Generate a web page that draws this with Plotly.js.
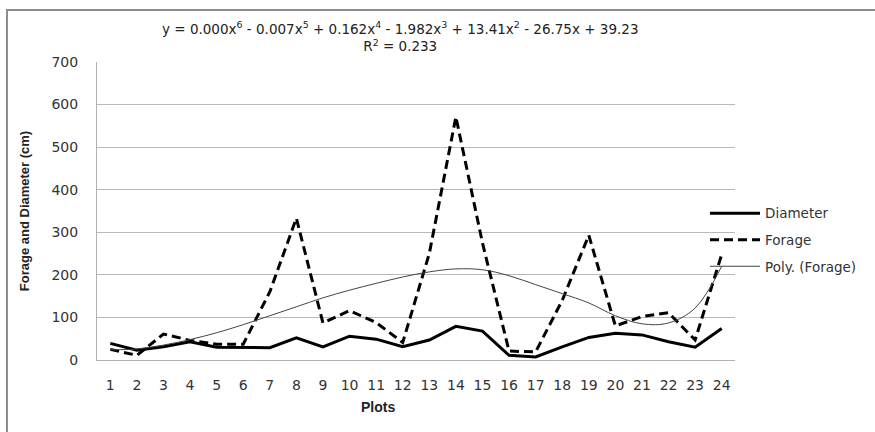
<!DOCTYPE html>
<html>
<head>
<meta charset="utf-8">
<script src="https://cdn.plot.ly/plotly-3.0.1.min.js"></script>
<style>html,body{margin:0;padding:0;background:#fff;}</style>
</head>
<body>
<div id="chart" style="width:875px;height:432px;"></div>
<script>
// ---- data ----
const plots = ["1","2","3","4","5","6","7","8","9","10","11","12","13","14","15","16","17","18","19","20","21","22","23","24"];
const diameter = [39, 23, 31, 43, 30, 30, 29, 52, 31, 56, 49, 31, 47, 79, 68, 11, 7, 31, 53, 63, 59, 43, 30, 74];
const forage = [25, 11, 61, 46, 37, 37, 160, 333, 87, 116, 88, 41, 250, 571, 275, 21, 19, 140, 293, 80, 102, 111, 47, 248];
const polyForage = [24, 26, 35, 48, 64, 83, 104, 125, 146, 164, 180, 195, 207, 214, 212, 198, 177, 156, 134, 104, 85, 87, 122, 220];
const yTicks = [0, 100, 200, 300, 400, 500, 600, 700];
const equationText = "y = 0.000x<sup>6</sup> - 0.007x<sup>5</sup> + 0.162x<sup>4</sup> - 1.982x<sup>3</sup> + 13.41x<sup>2</sup> - 26.75x + 39.23<br>R<sup>2</sup> = 0.233";

const baseFont = "DejaVu Sans, Verdana, sans-serif";
const boldFont = "Liberation Sans, Arial, sans-serif";

const traces = [
  {x: plots, y: diameter, name: "Diameter", type: "scatter", mode: "lines",
   line: {color: "#000", width: 3}, legendgroup: "a"},
  {x: plots, y: forage, name: "Forage", type: "scatter", mode: "lines",
   line: {color: "#000", width: 3, dash: "9px,5px"}, legendgroup: "b"},
  {x: plots, y: polyForage, name: "Poly. (Forage)", type: "scatter", mode: "lines",
   line: {color: "#444", width: 1, shape: "spline", smoothing: 1}, legendgroup: "c"}
];

const layout = {
  width: 875, height: 432,
  margin: {l: 97, r: 140, t: 62, b: 72},
  paper_bgcolor: "#fff", plot_bgcolor: "#fff",
  font: {family: baseFont, size: 14, color: "#333"},
  showlegend: true,
  legend: {x: 0.953, y: 0.544, xanchor: "left", yanchor: "top",
           bgcolor: "rgba(0,0,0,0)", font: {family: baseFont, size: 13.5, color: "#333"},
           itemwidth: 50, traceorder: "grouped", tracegroupgap: 6},
  xaxis: {type: "category", range: [-0.5, 23.5], showgrid: false, showline: true, linecolor: "#b0b0b0", linewidth: 1,
          ticks: "", tickfont: {family: baseFont, size: 14, color: "#333"}, ticklabelstandoff: 12,
          zeroline: false, fixedrange: true},
  yaxis: {range: [0, 700], tickvals: yTicks, showgrid: true, gridcolor: "#b8b8b8", gridwidth: 1,
          showline: true, linecolor: "#b0b0b0", linewidth: 1, zeroline: false, ticks: "",
          tickfont: {family: baseFont, size: 14, color: "#333"}, ticklabelstandoff: 15,
          title: {text: "Forage and Diameter (cm)", standoff: 18,
                  font: {family: boldFont, size: 13, color: "#222", weight: "bold"}},
          automargin: true, fixedrange: true},
  annotations: [
    {text: equationText, xref: "paper", yref: "paper", x: 0.475, y: 1.0856,
     xanchor: "center", yanchor: "middle", showarrow: false, align: "center",
     font: {family: baseFont, size: 13.5, color: "#222"}},
    {text: "<b>Plots</b>", xref: "paper", yref: "paper", x: (378 - 97) / 638, y: (360 - 407) / 298,
     xanchor: "center", yanchor: "middle", showarrow: false,
     font: {family: boldFont, size: 14, color: "#222"}}
  ],
  shapes: [
    {type: "rect", xref: "paper", yref: "paper", x0: (7 - 97) / 638, x1: 1.3, y0: -0.5, y1: (360 - 10) / 298,
     line: {color: "#8c8c8c", width: 2}, fillcolor: "rgba(0,0,0,0)", layer: "below"}
  ]
};

Plotly.newPlot("chart", traces, layout, {displayModeBar: false, staticPlot: true});
</script>
</body>
</html>
